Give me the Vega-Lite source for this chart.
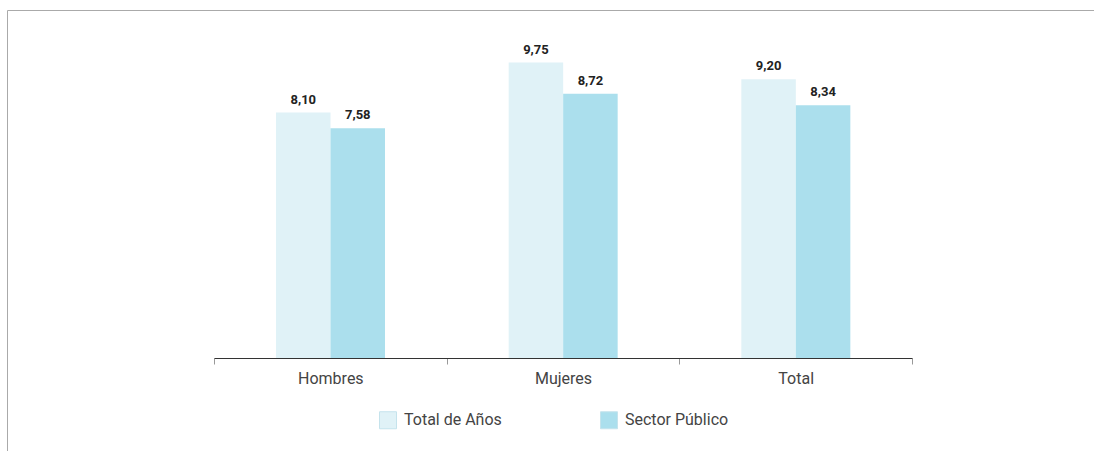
{
  "$schema": "https://vega.github.io/schema/vega-lite/v6.json",
  "width": 1087,
  "height": 441,
  "autosize": {"type": "none"},
  "padding": {"left": 7, "top": 10, "right": 0, "bottom": 0},
  "background": "white",
  "config": {
    "view": {"stroke": "#aaaaaa", "strokeWidth": 1},
    "font": "Roboto",
    "locale": {"number": {"decimal": ",", "thousands": ".", "grouping": [3], "currency": ["", " €"]}}
  },
  "data": {
    "values": [
      {"grupo": "Hombres", "serie": "Total de Años", "valor": 8.10},
      {"grupo": "Hombres", "serie": "Sector Público", "valor": 7.58},
      {"grupo": "Mujeres", "serie": "Total de Años", "valor": 9.75},
      {"grupo": "Mujeres", "serie": "Sector Público", "valor": 8.72},
      {"grupo": "Total", "serie": "Total de Años", "valor": 9.20},
      {"grupo": "Total", "serie": "Sector Público", "valor": 8.34}
    ]
  },
  "encoding": {
    "x": {
      "field": "grupo",
      "type": "nominal",
      "sort": ["Hombres", "Mujeres", "Total"],
      "scale": {"range": [207, 905], "paddingInner": 0, "paddingOuter": 0},
      "axis": {
        "title": null,
        "orient": "bottom",
        "offset": -93,
        "domainColor": "#333333",
        "domainWidth": 1,
        "tickColor": "#999999",
        "tickSize": 6,
        "tickBand": "extent",
        "labelFontSize": 16,
        "labelColor": "#444444",
        "labelPadding": 6,
        "labelAngle": 0,
        "labelFont": "Roboto",
        "grid": false
      }
    },
    "xOffset": {
      "field": "serie",
      "type": "nominal",
      "sort": ["Total de Años", "Sector Público"],
      "scale": {"range": [62, 171], "paddingInner": 0, "paddingOuter": 0}
    },
    "y": {
      "field": "valor",
      "type": "quantitative",
      "scale": {"domain": [0, 10], "range": [348, 45]},
      "axis": null
    }
  },
  "layer": [
    {
      "mark": {"type": "bar"},
      "encoding": {
        "color": {
          "field": "serie",
          "type": "nominal",
          "sort": ["Total de Años", "Sector Público"],
          "scale": {"domain": ["Total de Años", "Sector Público"], "range": ["#e0f2f7", "#abdfed"]},
          "legend": {
            "title": null,
            "orient": "none",
            "legendX": 372,
            "legendY": 401,
            "direction": "horizontal",
            "symbolType": "square",
            "symbolSize": 289,
            "symbolStrokeColor": "#c5e3ec",
            "symbolStrokeWidth": 1,
            "symbolOpacity": 1,
            "labelFontSize": 16,
            "labelFont": "Roboto",
            "labelColor": "#444444",
            "labelOffset": 7,
            "columnPadding": 96,
            "padding": 0
          }
        }
      }
    },
    {
      "mark": {"type": "text", "dy": -9, "baseline": "alphabetic", "fontWeight": "bold", "fontSize": 13, "font": "Roboto", "color": "#222222"},
      "encoding": {
        "text": {"field": "valor", "type": "quantitative", "format": ".2f"}
      }
    }
  ]
}
